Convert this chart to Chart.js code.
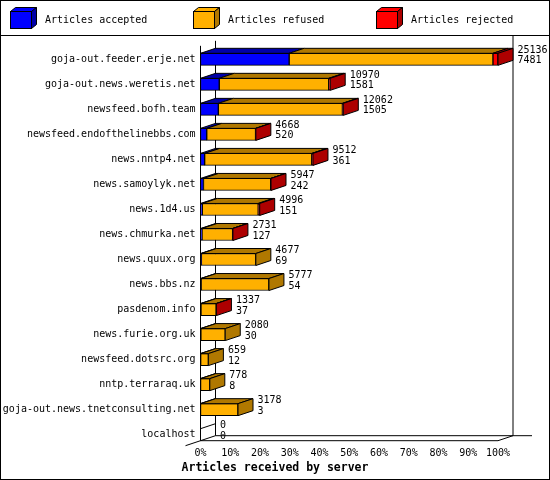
<!DOCTYPE html>
<html lang="en">
<head>
  <meta charset="UTF-8">
  <title>Articles received by server</title>
  <script src="https://cdn.jsdelivr.net/npm/chart.js"></script>
  <style>
    html, body { margin: 0; padding: 0; background: #fff; }
    canvas { display: block; }
  </style>
</head>
<body>
<canvas id="chart" width="550" height="480"></canvas>

<script>
// servers, top to bottom
const servers = [
  'goja-out.feeder.erje.net', 'goja-out.news.weretis.net', 'newsfeed.bofh.team',
  'newsfeed.endofthelinebbs.com', 'news.nntp4.net', 'news.samoylyk.net', 'news.1d4.us',
  'news.chmurka.net', 'news.quux.org', 'news.bbs.nz', 'pasdenom.info', 'news.furie.org.uk',
  'newsfeed.dotsrc.org', 'nntp.terraraq.uk', 'goja-out.news.tnetconsulting.net', 'localhost'
];
// numbers printed right of each bar
const offered  = [25136, 10970, 12062, 4668, 9512, 5947, 4996, 2731, 4677, 5777, 1337, 2080, 659, 778, 3178, 0];
const accepted = [7481, 1581, 1505, 520, 361, 242, 151, 127, 69, 54, 37, 30, 12, 8, 3, 0];
// bar segments, % of the biggest server
const acceptedPct = [29.8, 6.3, 6.0, 2.1, 1.4, 1.0, 0.6, 0.5, 0.3, 0.2, 0.15, 0.12, 0.05, 0.03, 0.01, 0];
const refusedPct  = [68.5, 36.8, 41.7, 16.4, 36.0, 22.6, 18.8, 10.3, 18.3, 22.8, 5.1, 8.2, 2.6, 3.1, 12.6, 0];
const rejectedPct = [1.7, 0.5, 0.3, 0.1, 0.4, 0.1, 0.5, 0.1, 0, 0, 0.1, 0, 0, 0, 0, 0];
const xTicks = [0, 10, 20, 30, 40, 50, 60, 70, 80, 90, 100];

const seriesNames = ['Articles accepted', 'Articles refused', 'Articles rejected'];
const fronts = ['#0000ff', '#ffb000', '#ff0000'];
const darks  = ['#0000a8', '#b07800', '#ad0000'];

const MONO = 'DejaVu Sans Mono';
const DX = 15, DY = -5;   // depth of the 3d bars

function poly(ctx, pts, fill) {
  ctx.beginPath();
  ctx.moveTo(pts[0][0], pts[0][1]);
  for (let i = 1; i < pts.length; i++) ctx.lineTo(pts[i][0], pts[i][1]);
  ctx.closePath();
  if (fill) { ctx.fillStyle = fill; ctx.fill(); }
  ctx.stroke();
}

function line(ctx, x1, y1, x2, y2) {
  ctx.beginPath();
  ctx.moveTo(x1, y1);
  ctx.lineTo(x2, y2);
  ctx.stroke();
}

const frame3d = {
  id: 'frame3d',
  beforeDraw(chart) {
    const ctx = chart.ctx;
    ctx.save();
    ctx.fillStyle = '#fff';
    ctx.fillRect(0, 0, chart.width, chart.height);
    ctx.restore();
  },
  beforeDatasetsDraw(chart) {
    const ctx = chart.ctx;
    const xs = chart.scales.x;
    const x0 = xs.getPixelForValue(0), x100 = xs.getPixelForValue(100);
    const meta = chart.getDatasetMeta(0);
    const first = meta.data[0], last = meta.data[meta.data.length - 1];
    const frontTop = first.y - first.height / 2 - 7.5;
    const floorY = last.y + last.height / 2;
    ctx.save();
    ctx.strokeStyle = '#000';
    ctx.lineWidth = 1;
    // back wall, right wall, floor
    line(ctx, x0 + DX, frontTop + DY, x0 + DX, floorY + DY);
    line(ctx, x100 + DX, 36, x100 + DX, floorY + DY);
    line(ctx, x0 + DX, floorY + DY, x100 + DX + 19, floorY + DY);
    line(ctx, x0, floorY, x100, floorY);
    line(ctx, x100, floorY, x100 + DX, floorY + DY);
    line(ctx, x0 + DX, floorY + DY, x0 - DX, floorY - DY);
    ctx.restore();
  },
  afterDatasetsDraw(chart) {
    const ctx = chart.ctx;
    const xs = chart.scales.x;
    const x0 = xs.getPixelForValue(0);
    const metas = [0, 1, 2].map(i => chart.getDatasetMeta(i));
    const first = metas[0].data[0], last = metas[0].data[servers.length - 1];
    ctx.save();
    ctx.strokeStyle = '#000';
    ctx.lineWidth = 1;
    line(ctx, x0, first.y - first.height / 2 - 7.5, x0, last.y + last.height / 2);

    servers.forEach((s, i) => {
      let lastSeg = -1;
      metas.forEach((m, d) => {
        const v = chart.data.datasets[d].data[i];
        if (!v) return;
        const el = m.data[i];
        const top = el.y - el.height / 2;
        poly(ctx, [[el.base, top], [el.base + DX, top + DY], [el.x + DX, top + DY], [el.x, top]], darks[d]);
        lastSeg = d;
      });
      const ref = metas[0].data[i];
      const top = ref.y - ref.height / 2, bottom = ref.y + ref.height / 2;
      const endX = metas[2].data[i].x;
      if (lastSeg >= 0) {
        poly(ctx, [[endX, top], [endX + DX, top + DY], [endX + DX, bottom + DY], [endX, bottom]], darks[lastSeg]);
      } else {
        line(ctx, ref.base, top, ref.base + DX, top + DY);
      }
      ctx.fillStyle = '#000';
      ctx.font = '10px "' + MONO + '"';
      ctx.textAlign = 'left';
      ctx.textBaseline = 'middle';
      ctx.fillText(String(offered[i]), endX + DX + 4.5, ref.y - 9);
      ctx.fillText(String(accepted[i]), endX + DX + 4.5, ref.y + 1.5);
    });
    ctx.restore();
  },
  afterDraw(chart) {
    const ctx = chart.ctx;
    ctx.save();
    ctx.strokeStyle = '#000';
    ctx.lineWidth = 1;
    ctx.strokeRect(0.5, 0.5, chart.width - 1, chart.height - 1);
    line(ctx, 0, 35.5, chart.width, 35.5);
    // legend with little 3d boxes
    seriesNames.forEach((name, k) => {
      const bx = 10.5 + 183 * k, by = 11.5, w = 21, h = 17;
      poly(ctx, [[bx, by], [bx + 5, by - 4], [bx + w + 5, by - 4], [bx + w, by]], fronts[k]);
      poly(ctx, [[bx + w, by], [bx + w + 5, by - 4], [bx + w + 5, by + h - 4], [bx + w, by + h]], darks[k]);
      ctx.fillStyle = fronts[k];
      ctx.fillRect(bx, by, w, h);
      ctx.strokeRect(bx, by, w, h);
      ctx.fillStyle = '#000';
      ctx.font = '10px "' + MONO + '"';
      ctx.textAlign = 'left';
      ctx.textBaseline = 'middle';
      ctx.fillText(name, bx + 34.5, 20);
    });
    ctx.restore();
  }
};

const pcts = [acceptedPct, refusedPct, rejectedPct];

new Chart(document.getElementById('chart'), {
  type: 'bar',
  data: {
    labels: servers,
    datasets: seriesNames.map((name, k) => ({
      label: name,
      data: pcts[k],
      backgroundColor: fronts[k],
      borderColor: '#000',
      borderWidth: 1,
      borderSkipped: false,
      barThickness: 12,
      stack: 'all'
    }))
  },
  options: {
    indexAxis: 'y',
    responsive: false,
    animation: false,
    devicePixelRatio: 1,
    layout: { padding: { top: 46.8, right: 0, bottom: 0, left: 0 } },
    scales: {
      x: {
        stacked: true,
        min: 0,
        max: 100,
        afterBuildTicks: scale => { scale.ticks = xTicks.map(v => ({ value: v })); },
        afterFit: scale => { scale.height = 14; },
        grid: { display: false, drawTicks: false },
        border: { display: false },
        ticks: {
          padding: 0,
          maxRotation: 0,
          autoSkip: false,
          color: '#000',
          font: { family: MONO, size: 10 },
          callback: v => v + '%'
        }
      },
      y: {
        stacked: true,
        afterFit: scale => { scale.width = 200.5; },
        grid: { display: false, drawTicks: false },
        border: { display: false },
        ticks: {
          padding: 5,
          autoSkip: false,
          color: '#000',
          font: { family: MONO, size: 10 }
        }
      },
      // empty axis on the right, only keeps room for the count labels
      yRoom: {
        type: 'category',
        position: 'right',
        afterFit: scale => { scale.width = 52; },
        grid: { display: false, drawTicks: false },
        border: { display: false },
        ticks: { display: false }
      }
    },
    plugins: {
      legend: { display: false },
      tooltip: { enabled: false },
      title: {
        display: true,
        position: 'bottom',
        text: 'Articles received by server',
        color: '#000',
        font: { family: MONO, size: 11.5, weight: 'bold' },
        padding: { top: 0, bottom: 5 }
      }
    }
  },
  plugins: [frame3d]
});
</script>
</body>
</html>
